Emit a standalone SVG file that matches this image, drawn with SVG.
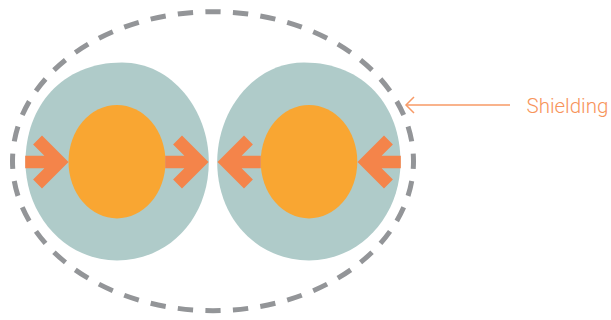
<svg xmlns="http://www.w3.org/2000/svg" width="611" height="320" viewBox="0 0 611 320">
<style>
.blob{fill:#afcbc9}
.core{fill:#f9a632}
.push{fill:#f4844a}
.shield{fill:none;stroke:#939598;stroke-width:5;stroke-dasharray:15 12;stroke-dashoffset:7.5}
.lead{fill:none;stroke:#f79a66;stroke-width:1.5}
.label{font-family:Roboto,"Liberation Sans",sans-serif;font-weight:300;font-size:20.5px;fill:#f7945a}
</style>
<defs>
<path id="blobShape" d="M122,62.5 C172,62.5 208.8,110 208.8,162 C208.8,219 168,260.5 117,260.5 C66,260.5 25.5,216 25.5,162 C25.5,106 62,62.5 122,62.5 Z"/>
<path id="pushArrow" d="M-43.3,-6.3 H-24.1 L-35.4,-17.6 L-26.5,-26.5 L0,0 L-26.5,26.5 L-35.4,17.6 L-24.1,6.3 H-43.3 Z"/>
</defs>
<g id="shielding-boundary">
<ellipse class="shield" cx="213" cy="161.2" rx="200.5" ry="149.5" pathLength="1080"/>
</g>
<g id="left-particle">
<use href="#blobShape" class="blob"/>
<ellipse class="core" cx="117" cy="161.7" rx="48.5" ry="56.7"/>
<use href="#pushArrow" class="push" transform="translate(68.5,162)"/>
<use href="#pushArrow" class="push" transform="translate(208.5,162)"/>
</g>
<g id="right-particle">
<use href="#blobShape" class="blob" transform="translate(426,0) scale(-1,1)"/>
<ellipse class="core" cx="309" cy="161.7" rx="48.3" ry="56.7"/>
<use href="#pushArrow" class="push" transform="translate(217.5,162) scale(-1,1)"/>
<use href="#pushArrow" class="push" transform="translate(357.5,162) scale(-1,1)"/>
</g>
<g id="connectors">
<path class="lead" d="M406,105 H510"/>
<path class="lead" d="M414,97 L406,105 L414,113"/>
</g>
<g id="label-shielding">
<text class="label" x="526.5" y="112.5">Shielding</text>
</g>
</svg>
